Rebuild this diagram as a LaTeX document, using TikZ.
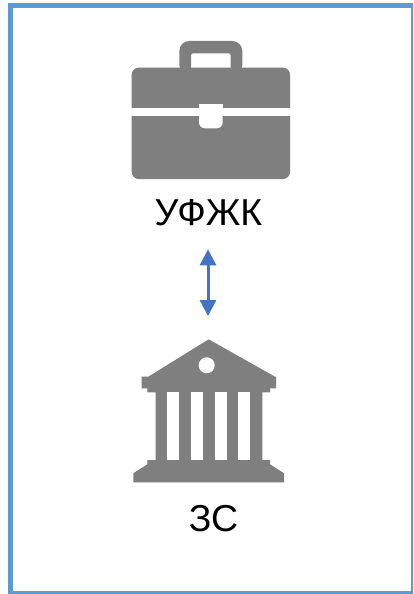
\documentclass[tikz,border=0pt]{standalone}
\usepackage{fontspec}
\setmainfont{Liberation Sans}
\usetikzlibrary{arrows.meta}
\definecolor{frameblue}{HTML}{5B9BD5}
\definecolor{arrowblue}{HTML}{4472C4}
\definecolor{icongray}{HTML}{7F7F7F}
\tikzset{
  iconfill/.style={fill=icongray,draw=none},
  cutout/.style={fill=white,draw=none},
  caption/.style={font=\fontsize{37.5}{40}\selectfont,text=black,inner sep=0pt,anchor=base},
  linkarrow/.style={draw=arrowblue,line width=3pt,{Triangle[length=16pt,width=16pt,fill=arrowblue]}-{Triangle[length=16pt,width=16pt,fill=arrowblue]}}
}
\begin{document}
\begin{tikzpicture}[x=1pt,y=-1pt]
\useasboundingbox (0,0) rectangle (413,594);
\fill[white] (0,0) rectangle (413,594);
% frame
\begin{scope}
\clip (0,0) rectangle (413,594);
\draw[frameblue,line width=5pt] (10.7,5.5) rectangle (413,593);
\end{scope}
% briefcase
\fill[iconfill,even odd rule,rounded corners=10pt]
  (179.3,75) -- (179.3,41) -- (242.3,41) -- (242.3,75) -- cycle
  [rounded corners=1.5pt] (191,75) -- (191,53.3) -- (230.7,53.3) -- (230.7,75) -- cycle;
\fill[iconfill,rounded corners=7pt] (131.7,67.7) rectangle (290,179);
\fill[cutout] (130,107.7) rectangle (292,115.7);
\fill[cutout,rounded corners=6pt] (199,110) -- (199,128.3) -- (222.7,128.3) -- (222.7,110) -- cycle;
\fill[cutout] (199,104) rectangle (222.7,112);
% bank
\fill[iconfill] (208.7,339.3) -- (275,376.7) -- (276,376.7) -- (276,388.3) -- (270,388.3) -- (270,392.3)
  -- (262.3,392.3) -- (262.3,460) -- (270,460) -- (270,464.3) -- (284,473.3) -- (284,482.3)
  -- (133.3,482.3) -- (133.3,473.3) -- (147.3,464.3) -- (147.3,460) -- (155.7,460) -- (155.7,392.3)
  -- (147.3,392.3) -- (147.3,388.3) -- (141.7,388.3) -- (141.7,376.7) -- (148.3,376.7) -- cycle;
\fill[cutout] (167.3,392.3) rectangle (179.3,460);
\fill[cutout] (191,392.3) rectangle (203,460);
\fill[cutout] (214.7,392.3) rectangle (226.7,460);
\fill[cutout] (238.3,392.3) rectangle (250.3,460);
\fill[cutout] (206.7,365.3) circle[radius=8pt];
% labels
\node[caption] (ufzhk) at (208.5,225) {УФЖК};
\node[caption] (zs) at (213.5,531) {ЗС};
% connector
\coordinate (linktop) at (208,249.3);
\coordinate (linkbot) at (208,316);
\draw[linkarrow] (linktop) -- (linkbot);
\end{tikzpicture}
\end{document}
